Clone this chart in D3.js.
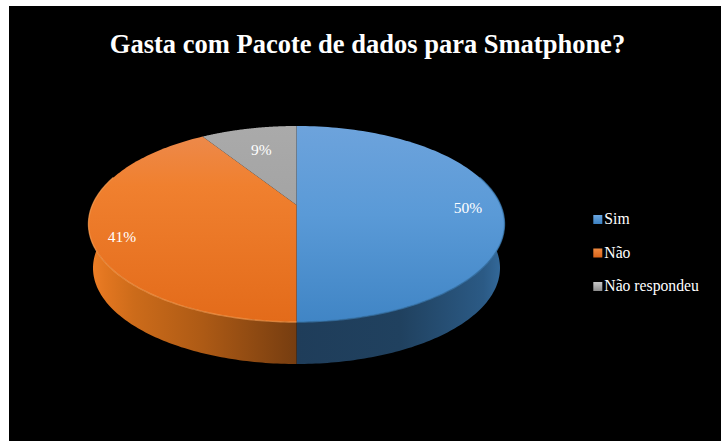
<!DOCTYPE html>
<html><head><meta charset="utf-8">
<style>html,body{margin:0;padding:0;background:#fff}svg{display:block}text{font-family:"Liberation Serif",serif}</style>
<script src="https://cdn.jsdelivr.net/npm/d3@7/dist/d3.min.js"></script>
</head><body>
<svg id="c" width="721" height="441"></svg>
<script>
// Survey answers and chart text
const categories = ["Sim", "Não", "Não respondeu"];
const shares = [50, 41, 9];
const titleText = "Gasta com Pacote de dados para Smatphone?";

const W = 721, H = 441;
const svg = d3.select("#c");
const defs = svg.append("defs");

// Tilted-disc geometry: top face and a slightly narrower bottom face
const disc = {cx: 296.5, cy: 224, rx: 208, ry: 98, pull: -19};
const base = {cx: 296.5, cy: 268, rx: 203.5, ry: 96, pull: -18};

// Perspective projection of a point on the unit disc (a clockwise from 12 o'clock, r 0..1)
function project(d, a, r = 1) {
  const k = d.pull / d.ry, u = r * Math.sin(a), v = -r * Math.cos(a);
  const w = 1 + k * v, c = d.rx * Math.sqrt(1 - k * k);
  return [d.cx + c * u / w, d.cy + (d.ry * v + d.pull) / w];
}

const pie = d3.pie().sort(null).value(v => v);
const arcs = pie(shares);
const line = d3.line();
const sweep = (a0, a1) => d3.range(0, 121).map(i => a0 + (a1 - a0) * i / 120);

// Fills, one set per slice
const faceStops = [
  [["0", "#6da3dc"], ["0.45", "#5a9ad7"], ["1", "#4085c5"]],
  [["0", "#ec8b50"], ["0.3", "#f0802f"], ["1", "#e36b1a"]],
  [["0", "#aaaaaa"], ["1", "#9a9a9a"]]
];
const wallStops = [
  [["0", "#1f3d5a"], ["0.5", "#20415f"], ["0.9", "#2b5a85"], ["1", "#356c9e"]],
  [["0", "#f08028"], ["0.08", "#e27620"], ["0.22", "#cc6b1a"], ["0.55", "#ad5a15"], ["1", "#763d10"]]
];
const swatchStops = [["#6aa6e0", "#3c80c0"], ["#f08a40", "#d9641a"], ["#c8c8c8", "#8c8c8c"]];

function linear(id, stops, horizontal, units) {
  const g = defs.append("linearGradient").attr("id", id)
    .attr("x1", 0).attr("y1", 0).attr("x2", horizontal ? 1 : 0).attr("y2", horizontal ? 0 : 1);
  if (units) g.attr("gradientUnits", "userSpaceOnUse")
    .attr("x1", units[0]).attr("y1", units[1]).attr("x2", units[2]).attr("y2", units[3]);
  stops.forEach(s => g.append("stop").attr("offset", s[0]).attr("stop-color", s[1]));
}
faceStops.forEach((s, i) => linear("face" + i, s, false, [0, disc.cy - disc.ry, 0, disc.cy + disc.ry]));
wallStops.forEach((s, i) => linear("wall" + i, s, true));
swatchStops.forEach((s, i) => linear("sw" + i, [["0", s[0]], ["1", s[1]]], false));

svg.append("rect").attr("x", 9).attr("y", 6).attr("width", W - 9).attr("height", H - 6).attr("fill", "#000");

// Side wall: the rim wraps a little past the widest point of the projected disc
const turn = Math.PI / 180;
const frontWalls = [[72 * turn, 180 * turn], [180 * turn, 288 * turn]];
svg.append("g").selectAll("path").data(frontWalls).join("path")
  .attr("fill", (d, i) => `url(#wall${i})`)
  .attr("d", d => {
    const angles = sweep(d[0], d[1]);
    return line(angles.map(a => project(disc, a)).concat(angles.slice().reverse().map(a => project(base, a)))) + "Z";
  });

// Top face
svg.append("g").selectAll("path").data(arcs).join("path")
  .attr("fill", (d, i) => `url(#face${i})`)
  .attr("d", d => line([project(disc, 0, 0)].concat(sweep(d.startAngle, d.endAngle).map(a => project(disc, a)))) + "Z");

// Soft bevel along the rim of the face
const rimColors = ["#3a78ad", "#f59a4e"];
svg.append("g").selectAll("path").data(frontWalls).join("path")
  .attr("fill", "none").attr("stroke", (d, i) => rimColors[i]).attr("stroke-width", 1.4).attr("opacity", 0.7)
  .attr("d", d => line(sweep(d[0], d[1]).map(a => project(disc, a))));

// Percentage labels
const labelRadius = [0.84, 0.85, 0.7];
const labelDrop = [8, 14, 6];
svg.append("g").selectAll("text").data(arcs).join("text")
  .attr("text-anchor", "middle").attr("font-size", 15.5).attr("fill", "#fff")
  .attr("x", (d, i) => project(disc, (d.startAngle + d.endAngle) / 2, labelRadius[i])[0])
  .attr("y", (d, i) => project(disc, (d.startAngle + d.endAngle) / 2, labelRadius[i])[1] + labelDrop[i])
  .text(d => d.data + "%");

svg.append("text").attr("x", 367.5).attr("y", 53).attr("text-anchor", "middle")
  .attr("font-size", 26.5).attr("font-weight", "bold").attr("fill", "#fff").text(titleText);

// Legend
const legendY = d3.scalePoint().domain(categories).range([219.5, 286.5]);
const legend = svg.append("g").selectAll("g").data(categories).join("g")
  .attr("transform", d => `translate(593.3,${legendY(d)})`);
legend.append("rect").attr("y", -4.5).attr("width", 9).attr("height", 9).attr("fill", (d, i) => `url(#sw${i})`);
legend.append("text").attr("x", 11).attr("y", 4.7).attr("font-size", 15.7).attr("fill", "#fff").text(d => d);
</script>
</body></html>
